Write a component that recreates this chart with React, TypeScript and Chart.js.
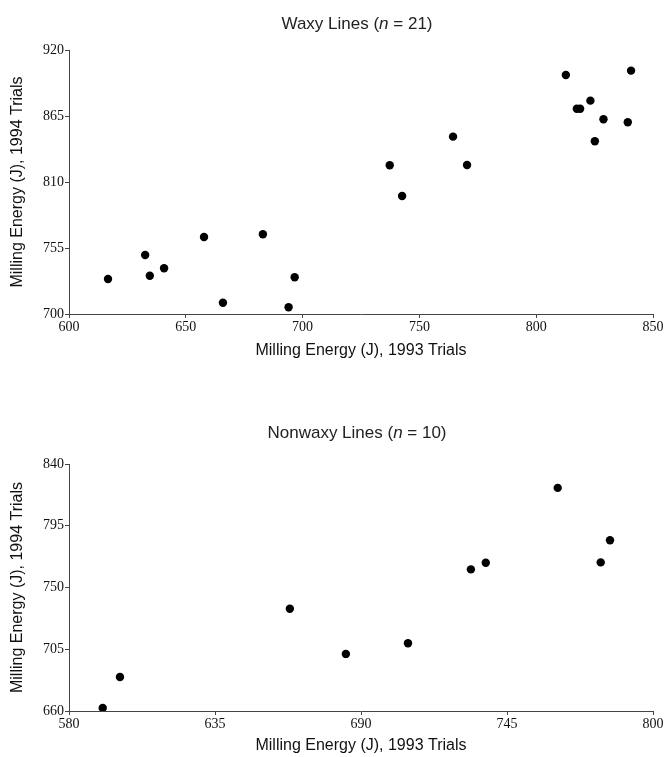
import React, { useEffect, useRef } from "react";
import { Chart, registerables } from "chart.js";

Chart.register(...registerables);

// ---- Data ----
const waxyX1993 = [616.7, 632.6, 634.6, 640.7, 657.8, 665.9, 683.0, 694.0, 696.6, 737.3, 742.6, 764.4, 770.4, 812.7, 817.4, 818.8, 823.2, 825.1, 828.8, 839.2, 840.6];
const waxyY1994 = [729.2, 749.2, 731.9, 738.1, 764.2, 709.4, 766.4, 705.6, 730.6, 823.9, 798.3, 847.8, 824.2, 899.2, 871.1, 871.1, 877.8, 843.9, 862.3, 859.8, 902.8];

const nonwaxyX1993 = [592.7, 599.2, 663.2, 684.3, 707.7, 731.4, 737.0, 764.1, 780.3, 783.8];
const nonwaxyY1994 = [662.2, 684.8, 734.5, 701.6, 709.4, 763.2, 768.0, 822.6, 768.3, 784.4];

const waxyXTicks = [600, 650, 700, 750, 800, 850];
const waxyYTicks = [700, 755, 810, 865, 920];
const nonwaxyXTicks = [580, 635, 690, 745, 800];
const nonwaxyYTicks = [660, 705, 750, 795, 840];

const waxyTitle = { name: "Waxy Lines", n: 21 };
const nonwaxyTitle = { name: "Nonwaxy Lines", n: 10 };

const xAxisTitle = "Milling Energy (J), 1993 Trials";
const yAxisTitle = "Milling Energy (J), 1994 Trials";

const AXIS_COLOR = "#444";
const SANS = "'Liberation Sans', Arial, sans-serif";
const SERIF = "'Liberation Serif', 'Times New Roman', serif";

type PanelProps = {
  xs: number[];
  ys: number[];
  xTicks: number[];
  yTicks: number[];
  title: { name: string; n: number };
  height: number;
  padTop: number;
  xScaleHeight: number;
  xTitlePad: number;
  titleY: number;
};

function Panel(props: PanelProps) {
  const ref = useRef<HTMLCanvasElement | null>(null);
  useEffect(() => {
    const canvas = ref.current;
    if (!canvas) return;
    const { xs, ys, xTicks, yTicks, title, padTop, xScaleHeight, xTitlePad, titleY } = props;
    const titlePlugin = {
      id: "mixedTitle",
      afterDraw(chart: any) {
        const ctx = chart.ctx;
        const area = chart.chartArea;
        const cx = (area.left + area.right) / 2 - 4;
        const parts = [
          { t: title.name + " (", f: "17px " + SANS },
          { t: "n", f: "italic 17px " + SANS },
          { t: " = " + title.n + ")", f: "17px " + SANS },
        ];
        ctx.save();
        let total = 0;
        for (const p of parts) {
          ctx.font = p.f;
          total += ctx.measureText(p.t).width;
        }
        let x = cx - total / 2;
        ctx.fillStyle = "#222";
        ctx.textBaseline = "middle";
        ctx.textAlign = "left";
        for (const p of parts) {
          ctx.font = p.f;
          ctx.fillText(p.t, x, titleY);
          x += ctx.measureText(p.t).width;
        }
        ctx.restore();
      },
    };
    const chart = new Chart(canvas, {
      type: "scatter",
      data: {
        datasets: [
          {
            data: xs.map((x, i) => ({ x, y: ys[i] })),
            backgroundColor: "#000",
            borderColor: "#000",
            pointRadius: 4.2,
            pointBorderWidth: 0,
            pointHoverRadius: 4.2,
          },
        ],
      },
      options: {
        animation: false,
        responsive: false,
        devicePixelRatio: 1,
        events: [],
        layout: { padding: { top: padTop, right: 14, bottom: 0, left: 0 } },
        plugins: { legend: { display: false }, tooltip: { enabled: false }, title: { display: false } },
        scales: {
          x: {
            type: "linear",
            min: xTicks[0],
            max: xTicks[xTicks.length - 1],
            afterBuildTicks: (scale: any) => {
              scale.ticks = xTicks.map((v) => ({ value: v }));
            },
            afterFit: (scale: any) => {
              scale.height = xScaleHeight;
            },
            grid: { display: true, drawOnChartArea: false, drawTicks: true, tickLength: 4, color: AXIS_COLOR, lineWidth: 1 },
            border: { display: true, color: AXIS_COLOR, width: 1 },
            ticks: { color: "#111", font: { family: SERIF, size: 14 }, padding: 1, maxRotation: 0, autoSkip: false },
            title: { display: true, text: xAxisTitle, color: "#111", font: { family: SANS, size: 16 }, padding: { top: 0, bottom: xTitlePad } },
          },
          y: {
            type: "linear",
            min: yTicks[0],
            max: yTicks[yTicks.length - 1],
            afterBuildTicks: (scale: any) => {
              scale.ticks = yTicks.map((v) => ({ value: v }));
            },
            afterFit: (scale: any) => {
              scale.width = 69;
            },
            grid: { display: true, drawOnChartArea: false, drawTicks: true, tickLength: 4, color: AXIS_COLOR, lineWidth: 1 },
            border: { display: true, color: AXIS_COLOR, width: 1 },
            ticks: { color: "#111", font: { family: SERIF, size: 14 }, padding: 1, autoSkip: false },
            title: { display: true, text: yAxisTitle, color: "#111", font: { family: SANS, size: 16 }, padding: { top: 8, bottom: 0 } },
          },
        },
      },
      plugins: [titlePlugin],
    } as any);
    return () => chart.destroy();
  }, []);
  return <canvas ref={ref} width={667} height={props.height} style={{ display: "block", width: 667, height: props.height }} />;
}

export default function App() {
  return (
    <div style={{ position: "absolute", left: 0, top: 0, width: 667, height: 757, background: "#fff" }}>
      <Panel
        xs={waxyX1993}
        ys={waxyY1994}
        xTicks={waxyXTicks}
        yTicks={waxyYTicks}
        title={waxyTitle}
        height={380}
        padTop={50}
        xScaleHeight={66}
        xTitlePad={20}
        titleY={24}
      />
      <Panel
        xs={nonwaxyX1993}
        ys={nonwaxyY1994}
        xTicks={nonwaxyXTicks}
        yTicks={nonwaxyYTicks}
        title={nonwaxyTitle}
        height={377}
        padTop={84}
        xScaleHeight={46}
        xTitlePad={2}
        titleY={53}
      />
    </div>
  );
}
